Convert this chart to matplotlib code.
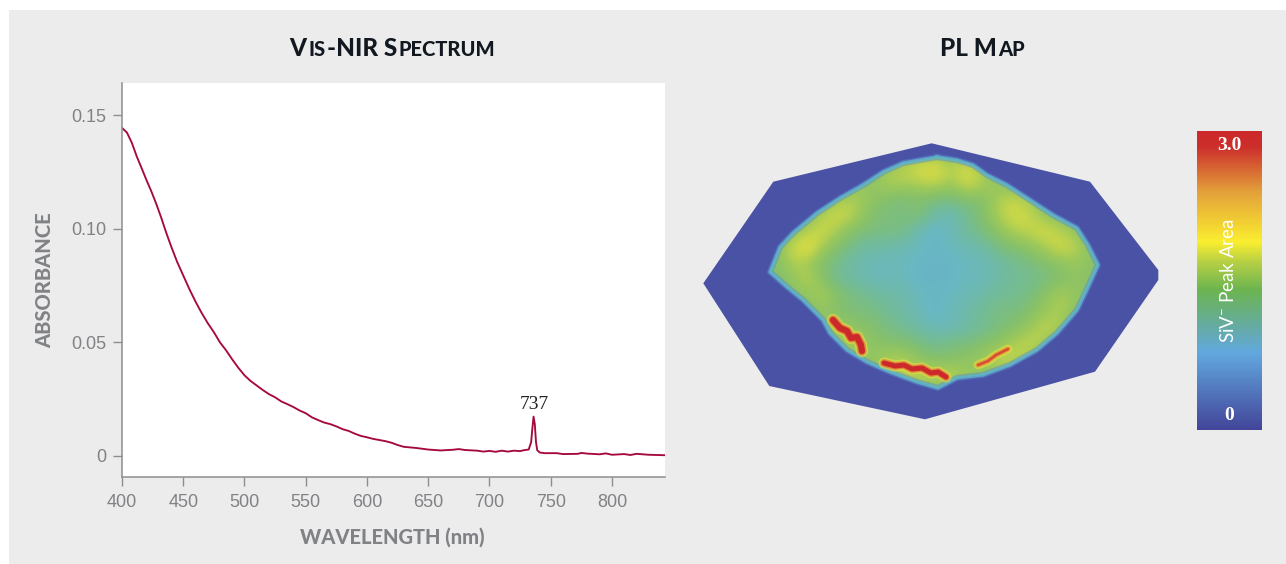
import numpy as np
from matplotlib import pyplot as plt
from matplotlib.colors import LinearSegmentedColormap
from matplotlib.patches import Polygon, Rectangle

W, H = 1286, 564

wavelength = [400, 404, 408, 412, 416, 420, 424, 428, 432, 436, 440, 445, 450, 455, 460, 465, 470, 475, 480, 485,
              490, 495, 500, 505, 510, 515, 520, 525, 530, 535, 540, 545, 550, 555, 560, 565, 570, 575, 580, 585,
              590, 595, 600, 605, 610, 615, 620, 625, 630, 640, 650, 660, 670, 675, 680, 690, 695, 700, 705, 710,
              715, 720, 725, 728, 732, 734, 735, 736, 737, 738, 739, 741, 745, 755, 760, 772, 775, 780, 790, 795,
              800, 810, 815, 820, 830, 843]
absorbance = [.1445, .1425, .138, .132, .1268, .1215, .1165, .111, .105, .0985, .0925, .0855, .0795, .0735, .068,
              .063, .0585, .0545, .050, .0465, .0425, .0388, .0355, .033, .031, .029, .0272, .0258, .024, .0228,
              .0215, .020, .0188, .017, .0158, .0147, .014, .013, .0118, .011, .0098, .0088, .0082, .0075, .007,
              .0065, .0058, .0048, .004, .0035, .0028, .0024, .0027, .003, .0026, .0023, .0019, .0022, .0018, .0023,
              .0019, .0023, .0021, .0025, .0028, .006, .012, .0173, .014, .006, .0025, .0015, .0012, .0012, .0008,
              .0009, .0013, .001, .0007, .0011, .0005, .0008, .0004, .0009, .0005, .0003]

x_ticks = [400, 450, 500, 550, 600, 650, 700, 750, 800]
y_ticks = [0, 0.05, 0.10, 0.15]
y_tick_labels = ['0', '0.05', '0.10', '0.15']

# SiV peak area in tenths inside the stone, read by eye, one row per 16 px
pl_tenths = [
    [14]*29,
    [14]*10 + [14, 16, 17, 19, 20, 17, 19, 16, 14] + [14]*10,
    [14]*9 + [15, 15, 17, 17, 17, 18, 16, 19, 17, 15, 14] + [14]*9,
    [14]*8 + [16, 17, 15, 14, 13, 14, 13, 13, 14, 14, 17, 18, 16] + [14]*8,
    [14]*7 + [17, 19, 17, 14, 13, 13, 14, 11, 10, 12, 14, 17, 19, 18, 15] + [14]*7,
    [14]*6 + [17, 19, 16, 14, 13, 13, 13, 10, 9, 10, 12, 13, 15, 17, 18, 19, 17, 15] + [14]*5,
    [14]*5 + [18, 21, 16, 14, 12, 11, 11, 10, 10, 9, 10, 10, 11, 13, 14, 15, 17, 19, 17, 14] + [14]*4,
    [14]*4 + [14, 17, 16, 14, 12, 11, 10, 10, 10, 9, 9, 9, 10, 10, 11, 12, 13, 14, 15, 16, 14] + [14]*4,
    [14]*4 + [13, 15, 18, 14, 12, 11, 10, 10, 10, 9, 9, 9, 10, 10, 11, 12, 12, 13, 14, 15, 14] + [14]*4,
    [14]*5 + [14, 15, 17, 14, 13, 12, 11, 11, 10, 9, 10, 10, 11, 12, 12, 13, 15, 17, 15] + [14]*5,
    [14]*6 + [14, 15, 14, 13, 13, 12, 11, 10, 9, 10, 11, 12, 13, 13, 14, 16, 17] + [14]*6,
    [14]*7 + [15, 16, 15, 14, 13, 12, 11, 10, 10, 11, 12, 13, 14, 16, 18, 16] + [14]*6,
    [14]*8 + [16, 17, 15, 14, 14, 13, 12, 13, 13, 14, 15, 17, 18, 16] + [14]*7,
    [14]*9 + [15, 15, 17, 17, 15, 14, 14, 15, 16, 18, 18, 16] + [14]*8,
    [14]*11 + [16, 18, 18, 18, 18, 16, 15, 15] + [14]*10,
    [14]*29,
    [14]*29,
    [14]*29,
]
map_outline = [(931.7, 143.3), (1090, 181.7), (1158.3, 270), (1158.3, 280), (1095, 371.7),
               (925, 419.3), (769.3, 386), (703.3, 283.3), (773.3, 181.7)]
stone_outline = [(937, 157), (957, 160), (973, 165), (987, 175), (1007, 185), (1030, 200), (1053, 215), (1077, 228),
                 (1088, 245), (1098, 265), (1088, 287), (1077, 310), (1057, 333), (1037, 350), (1010, 365),
                 (983, 375), (957, 378), (938, 388), (917, 382), (890, 372), (867, 362), (847, 350), (830, 333),
                 (823, 320), (803, 300), (787, 287), (770, 272), (780, 247), (793, 233), (817, 213), (840, 198),
                 (863, 185), (883, 172), (903, 163)]
hot_band_1 = [(833, 320), (840, 328), (847, 331), (851, 338), (857, 337), (861, 345), (862, 351)]
hot_band_2 = [(884, 363), (895, 366), (904, 365), (912, 369), (922, 368), (931, 373), (938, 372), (946, 377)]
warm_band = [(978, 365), (988, 361), (996, 355), (1004, 351), (1008, 349)]

map_stops = [0, 0.2, 0.6, 0.95, 1.2, 1.4, 1.6, 1.8, 2.0, 2.3, 2.6, 3.0]
map_colors = ['#4a52a5', '#4a52a5', '#5f9ad6', '#6ab8c2', '#74bc94', '#84c06c', '#9cc85a', '#c6d64a', '#e6e040',
              '#f2c23a', '#e8703a', '#cc2a2a']
scale_stops = [0, 0.256, 0.35, 0.47, 0.56, 0.63, 0.8, 0.95, 1]
scale_colors = ['#43469a', '#62a8df', '#66aca0', '#6db550', '#b5cf45', '#fbee30', '#e3a03a', '#cc2f2c', '#cc2a2a']

GRAY = '#808285'
RED = '#a6093d'
PANEL = '#ececec'
scale_cmap = LinearSegmentedColormap.from_list('siv', list(zip(scale_stops, scale_colors)))
map_cmap = LinearSegmentedColormap.from_list('pl', [(s/3, c) for s, c in zip(map_stops, map_colors)])
plt.rcParams['mathtext.default'] = 'regular'


def axes_px(fig, left, top, right, bottom):
    return fig.add_axes([left/W, 1-bottom/H, (right-left)/W, (bottom-top)/H])


def small_caps(fig, xc, y, text, big=17.5, small=14.5, gap=1.4):
    # lower case letters come out as smaller capitals, each run is its own text
    runs = []
    for ch in text:
        low = ch.islower()
        if runs and runs[-1][1] == low:
            runs[-1][0] += ch
        else:
            runs.append([ch, low])
    r = fig.canvas.get_renderer()
    items = []
    total = 0
    for s, low in runs:
        t = fig.text(0, 1-y/H, s.upper(), fontsize=small if low else big, family='Lato', weight='black',
                     color='#111820', va='baseline', ha='left')
        w = t.get_window_extent(r).width
        items.append((t, w))
        total += w + gap
    x = xc-total/2
    for t, w in items:
        t.set_x(x/W)
        x += w + gap


def band(ax, pts, layers):
    xs, ys = zip(*pts)
    for color, lw, alpha in layers:
        ax.plot(xs, ys, color=color, lw=lw, alpha=alpha, solid_capstyle='round', solid_joinstyle='round', zorder=4)


fig = plt.figure(figsize=(W/100, H/100), dpi=100, facecolor='white')
fig.patches.append(Rectangle((9/W, 0), (W-9)/W, 1-10/H, transform=fig.transFigure, facecolor=PANEL,
                             edgecolor='none', zorder=-5))

small_caps(fig, 393, 56, 'Vis-NIR Spectrum')
small_caps(fig, 983, 56, 'PL Map')

ax = axes_px(fig, 122, 83, 665, 477)
ax.plot(wavelength, absorbance, color=RED, lw=1.35)
ax.set_xlim(400, 843.3)
ax.set_ylim(-0.0093, 0.1643)
ax.set_xticks(x_ticks)
ax.set_yticks(y_ticks)
ax.set_yticklabels(y_tick_labels)
ax.spines['top'].set_visible(False)
ax.spines['right'].set_visible(False)
for side in ['left', 'bottom']:
    ax.spines[side].set_color('#8c8e91')
    ax.spines[side].set_linewidth(1.1)
ax.tick_params(length=6.5, width=1, color='#8c8e91', labelcolor=GRAY, labelsize=13, pad=5,
               labelfontfamily='Liberation Sans')
ax.tick_params(axis='x', pad=6)
ax.text(737, 0.0188, '737', family='Liberation Serif', fontsize=14, color='#222222', ha='center', va='bottom')
fig.text(392.5/W, 1-537/H, 'WAVELENGTH (nm)', family='Lato', weight='black', fontsize=14.5, color=GRAY,
         ha='center', va='center')
fig.text(45/W, 1-280/H, 'ABSORBANCE', family='Lato', weight='black', fontsize=14.5, color=GRAY, rotation=90,
         ha='center', va='center')

# map, axes in reference pixels so the 16 px rows line up
m = axes_px(fig, 703, 143, 1159, 421)
m.patch.set_visible(False)
m.add_patch(Polygon(map_outline, closed=True, facecolor=map_colors[0], edgecolor='none', zorder=1))
im = m.imshow(np.array(pl_tenths)/10, cmap=map_cmap, vmin=0, vmax=3, interpolation='bicubic', aspect='auto',
              extent=(703, 1167, 431, 143), zorder=2)
clip = Polygon(stone_outline, closed=True, transform=m.transData, facecolor='none', edgecolor='none')
m.add_patch(clip)
im.set_clip_path(clip)
# bright rim round the stone, widest and bluest stroke first
ox, oy = zip(*(stone_outline + stone_outline[:1]))
m.plot(ox, oy, color='#5a86cc', lw=4.5, alpha=0.45, solid_joinstyle='round', zorder=3)
m.plot(ox, oy, color='#5fb8cc', lw=2.4, alpha=0.8, solid_joinstyle='round', zorder=3)
band(m, hot_band_1, [('#e8dc40', 9, 0.6), ('#e8743a', 6.5, 0.8), ('#cc2a2a', 4.5, 1)])
band(m, hot_band_2, [('#e8dc40', 8, 0.6), ('#e8743a', 5.5, 0.8), ('#cc2a2a', 3.6, 1)])
band(m, warm_band, [('#e8dc40', 6.5, 0.6), ('#e8903a', 3.5, 0.85), ('#d6452e', 1.8, 0.9)])
m.set_xlim(703, 1159)
m.set_ylim(421, 143)
m.axis('off')

cb = axes_px(fig, 1197, 131, 1262, 430)
cb.imshow(np.linspace(1, 0, 300).reshape(-1, 1), cmap=scale_cmap, aspect='auto', extent=(0, 1, 0, 3))
cb.axis('off')
cb.text(0.5, 2.85, '3.0', family='Liberation Serif', weight='bold', fontsize=14, color='white', ha='center', va='center')
cb.text(0.5, 0.15, '0', family='Liberation Serif', weight='bold', fontsize=14, color='white', ha='center', va='center')
cb.text(0.48, 1.5, 'SiV$^{-}$ Peak Area', family='Lato', fontsize=13.5, color='white', rotation=90, ha='center', va='center')

fig.savefig('out.png', dpi=100, facecolor=fig.get_facecolor())
